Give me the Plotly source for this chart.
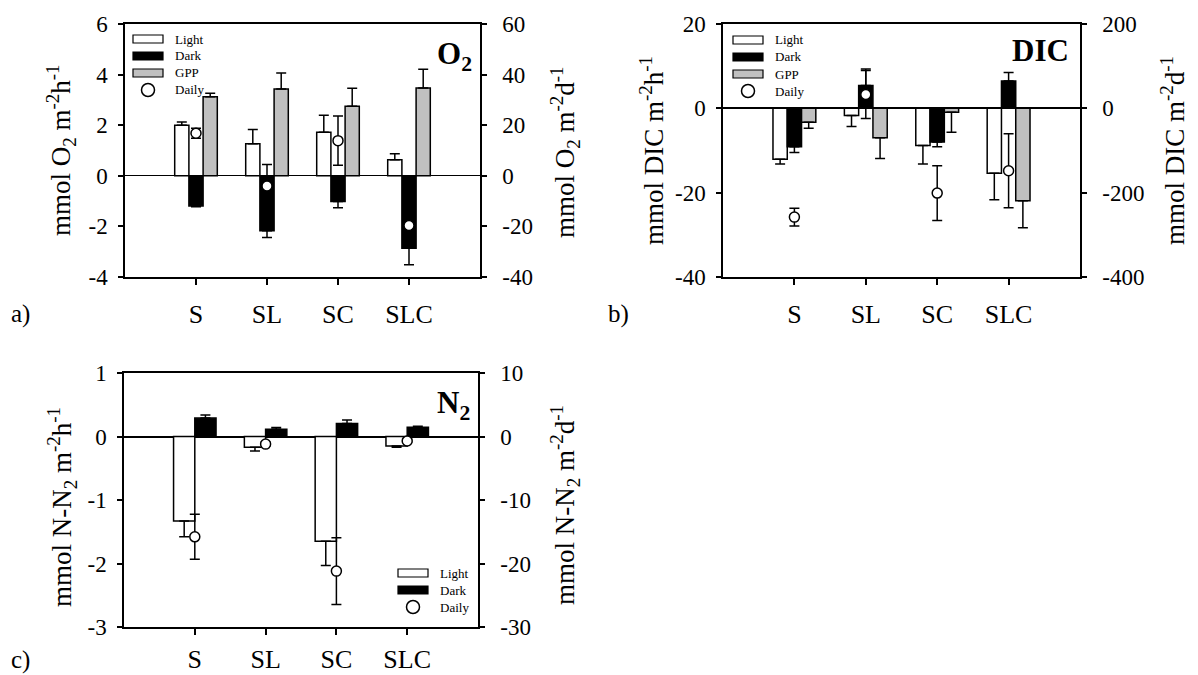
import plotly.graph_objects as go

W, H = 1198, 675
FONT = "Times New Roman, Liberation Serif, serif"

cats = ["S", "SL", "SC", "SLC"]

# ---- O2 (left: mmol O2 m-2 h-1, daily: mmol O2 m-2 d-1) ----
o2_light = [2.00, 1.27, 1.72, 0.63]
o2_light_err = [0.13, 0.56, 0.67, 0.24]
o2_dark = [-1.19, -2.17, -1.02, -2.86]
o2_dark_err = [0.03, 0.27, 0.24, 0.66]
o2_gpp = [3.12, 3.43, 2.75, 3.47]
o2_gpp_err = [0.14, 0.63, 0.71, 0.74]
o2_daily = [16.8, -4.0, 13.9, -19.6]
o2_daily_err = [2.0, 8.5, 9.7, 6.0]
o2_ticks_h = [-4, -2, 0, 2, 4, 6]
o2_ticks_d = [-40, -20, 0, 20, 40, 60]

# ---- DIC ----
dic_light = [-12.1, -1.7, -8.8, -15.4]
dic_light_err = [1.1, 2.6, 4.4, 6.3]
dic_dark = [-9.1, 5.4, -8.0, 6.5]
dic_dark_err = [1.4, 3.9, 1.1, 2.0]
dic_gpp = [-3.3, -7.0, -0.95, -21.9]
dic_gpp_err = [1.4, 4.9, 4.75, 6.4]
dic_daily = [-258, 33, -201, -148]
dic_daily_err = [21, 57, 65, 88]
dic_ticks_h = [-40, -20, 0, 20]
dic_ticks_d = [-400, -200, 0, 200]

# ---- N2 ----
n2_light = [-1.33, -0.17, -1.65, -0.15]
n2_light_err = [0.25, 0.06, 0.38, 0.02]
n2_dark = [0.29, 0.115, 0.205, 0.147]
n2_dark_err = [0.05, 0.025, 0.055, 0.015]
n2_daily = [-15.8, -1.2, -21.2, -0.7]
n2_daily_err = [3.55, 0.3, 5.25, 0.2]
n2_ticks_h = [-3, -2, -1, 0, 1]
n2_ticks_d = [-30, -20, -10, 0, 10]

LIGHT_C, DARK_C, GPP_C = "white", "black", "#c0c0c0"


def fx(px):
    return px / W


def fy(py):
    return 1 - py / H


def one_sided(vals, errs):
    plus = [e if v >= 0 else 0 for v, e in zip(vals, errs)]
    minus = [e if v < 0 else 0 for v, e in zip(vals, errs)]
    return plus, minus


def bar(vals, errs, color, name, xa, ya):
    p, m = one_sided(vals, errs)
    return go.Bar(
        x=cats, y=vals, name=name, xaxis=xa, yaxis=ya, showlegend=False,
        marker=dict(color=color, line=dict(color="black", width=1.5)),
        error_y=dict(type="data", symmetric=False, array=p, arrayminus=m,
                     color="black", thickness=1.5, width=5),
    )


def daily(vals, errs, xa, ya):
    return go.Scatter(
        x=cats, y=vals, name="Daily", mode="markers", xaxis=xa, yaxis=ya,
        showlegend=False,
        marker=dict(symbol="circle", size=10, color="white",
                    line=dict(color="black", width=1.5)),
        error_y=dict(type="data", array=errs, color="black", thickness=1.5, width=5),
    )


fig = go.Figure()
# panel a
fig.add_trace(bar(o2_light, o2_light_err, LIGHT_C, "Light", "x", "y"))
fig.add_trace(bar(o2_dark, o2_dark_err, DARK_C, "Dark", "x", "y"))
fig.add_trace(bar(o2_gpp, o2_gpp_err, GPP_C, "GPP", "x", "y"))
fig.add_trace(daily(o2_daily, o2_daily_err, "x", "y2"))
# panel b
fig.add_trace(bar(dic_light, dic_light_err, LIGHT_C, "Light", "x2", "y3"))
fig.add_trace(bar(dic_dark, dic_dark_err, DARK_C, "Dark", "x2", "y3"))
fig.add_trace(bar(dic_gpp, dic_gpp_err, GPP_C, "GPP", "x2", "y3"))
fig.add_trace(daily(dic_daily, dic_daily_err, "x2", "y4"))
# panel c
fig.add_trace(bar(n2_light, n2_light_err, LIGHT_C, "Light", "x3", "y5"))
fig.add_trace(bar(n2_dark, n2_dark_err, DARK_C, "Dark", "x3", "y5"))
fig.add_trace(daily(n2_daily, n2_daily_err, "x3", "y6"))

panels = {
    "a": dict(x=(125, 480), y=(24, 277)),
    "b": dict(x=(723, 1080), y=(24, 277)),
    "c": dict(x=(124, 478), y=(373, 627)),
}


def xax(p, anchor, standoff):
    d = panels[p]
    return dict(
        domain=[fx(d["x"][0]), fx(d["x"][1])], anchor=anchor, type="category",
        range=[-1, 4], showline=True, linecolor="black", linewidth=1.5, mirror=True,
        ticks="outside", ticklen=6, tickwidth=1.5, tickcolor="black",
        tickfont=dict(family=FONT, size=26, color="black"), ticklabelstandoff=standoff,
        showgrid=False, zeroline=False, automargin=False, fixedrange=True,
    )


def yax(p, anchor, rng, ticks, zw):
    d = panels[p]
    return dict(
        domain=[fy(d["y"][1]), fy(d["y"][0])], anchor=anchor, range=rng,
        tickmode="array", tickvals=ticks, ticktext=[str(t) for t in ticks],
        showline=True, linecolor="black", linewidth=1.5,
        ticks="outside", ticklen=5, tickwidth=1.5, tickcolor="black",
        tickfont=dict(family=FONT, size=23, color="black"), ticklabelstandoff=6,
        showgrid=False, zeroline=True, zerolinecolor="black", zerolinewidth=zw,
        automargin=False, fixedrange=True,
    )


def yax_r(over, anchor, rng, ticks):
    return dict(
        overlaying=over, side="right", anchor=anchor, range=rng,
        tickmode="array", tickvals=ticks, ticktext=[str(t) for t in ticks],
        showline=True, linecolor="black", linewidth=1.5,
        ticks="outside", ticklen=5, tickwidth=1.5, tickcolor="black",
        tickfont=dict(family=FONT, size=23, color="black"), ticklabelstandoff=11,
        showgrid=False, zeroline=False, automargin=False, fixedrange=True,
    )


fig.update_layout(
    width=W, height=H,
    margin=dict(l=0, r=0, t=0, b=0),
    paper_bgcolor="white", plot_bgcolor="white",
    barmode="group", bargap=0.4, bargroupgap=0,
    showlegend=False,
    font=dict(family=FONT, color="black"),
    xaxis=xax("a", "y", 7),
    yaxis=yax("a", "x", [-4, 6], o2_ticks_h, 1),
    yaxis2=yax_r("y", "x", [-40, 60], o2_ticks_d),
    xaxis2=xax("b", "y3", 7),
    yaxis3=yax("b", "x2", [-40, 20], dic_ticks_h, 1.5),
    yaxis4=yax_r("y3", "x2", [-400, 200], dic_ticks_d),
    xaxis3=xax("c", "y5", 2),
    yaxis5=yax("c", "x3", [-3, 1], n2_ticks_h, 2),
    yaxis6=yax_r("y5", "x3", [-30, 10], n2_ticks_d),
)

shapes = []
annotations = []


def add_text(text, px, py, size, xanchor="center", angle=0, yanchor="middle"):
    annotations.append(dict(
        text=text, x=fx(px), y=fy(py), xref="paper", yref="paper",
        xanchor=xanchor, yanchor=yanchor, showarrow=False, textangle=angle,
        font=dict(family=FONT, size=size, color="black"),
    ))


# axis titles
add_text("mmol O<sub>2</sub> m<sup>-2</sup>h<sup>-1</sup>", 61, 151, 27, angle=-90)
add_text("mmol O<sub>2</sub> m<sup>-2</sup>d<sup>-1</sup>", 565, 153, 27, angle=-90)
add_text("mmol DIC m<sup>-2</sup>h<sup>-1</sup>", 652, 151, 27, angle=-90)
add_text("mmol DIC m<sup>-2</sup>d<sup>-1</sup>", 1173, 151, 27, angle=-90)
add_text("mmol N-N<sub>2</sub> m<sup>-2</sup>h<sup>-1</sup>", 62, 507, 27, angle=-90)
add_text("mmol N-N<sub>2</sub> m<sup>-2</sup>d<sup>-1</sup>", 565, 505, 27, angle=-90)

# panel titles
add_text("<b>O<sub>2</sub></b>", 474, 56, 31, xanchor="right")
add_text("<b>DIC</b>", 1071, 50, 31, xanchor="right")
add_text("<b>N<sub>2</sub></b>", 472, 405, 31, xanchor="right")

# panel letters
add_text("a)", 9, 314, 25, xanchor="left")
add_text("b)", 606, 314, 25, xanchor="left")
add_text("c)", 9, 660, 25, xanchor="left")


def legend(bx, rows, items):
    for (label, kind), ry in zip(items, rows):
        if kind == "circle":
            cx = bx + 15
            shapes.append(dict(type="circle", xref="paper", yref="paper",
                               x0=fx(cx - 6.5), x1=fx(cx + 6.5), y0=fy(ry + 6.5), y1=fy(ry - 6.5),
                               line=dict(color="black", width=1.5), fillcolor="white"))
        else:
            shapes.append(dict(type="rect", xref="paper", yref="paper",
                               x0=fx(bx), x1=fx(bx + 30), y0=fy(ry + 4), y1=fy(ry - 4),
                               line=dict(color="black", width=1.2), fillcolor=kind))
        add_text(label, bx + 40, ry, 13, xanchor="left")


legend(133, [39, 56, 73, 90],
       [("Light", LIGHT_C), ("Dark", DARK_C), ("GPP", GPP_C), ("Daily", "circle")])
legend(733, [40, 57, 74, 91],
       [("Light", LIGHT_C), ("Dark", DARK_C), ("GPP", GPP_C), ("Daily", "circle")])
legend(398, [573, 590, 607],
       [("Light", LIGHT_C), ("Dark", DARK_C), ("Daily", "circle")])

fig.update_layout(shapes=shapes, annotations=annotations)

fig.write_html("out.html")
